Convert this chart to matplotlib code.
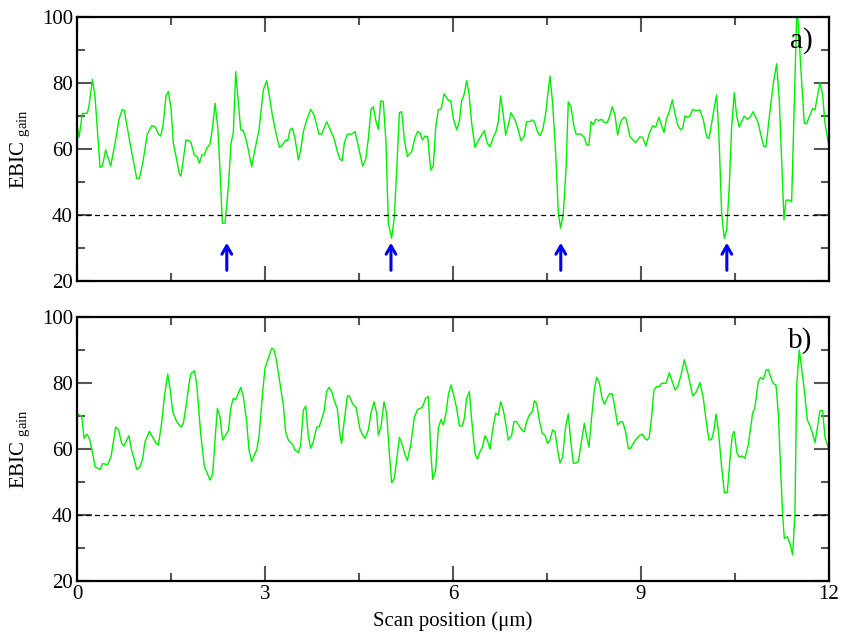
import numpy as np
import matplotlib
matplotlib.use('Agg')
import matplotlib.pyplot as plt

# panel a) scan data
xa = [0.005, 0.032, 0.085, 0.165, 0.197, 0.245, 0.287, 0.367, 0.404, 0.457, 0.537, 0.606, 0.670, 0.723, 0.755,
      0.846, 0.952, 0.995, 1.048, 1.122, 1.191, 1.245, 1.298, 1.335, 1.377, 1.420, 1.457, 1.500, 1.537, 1.580,
      1.633, 1.659, 1.739, 1.792, 1.819, 1.872, 1.920, 1.952, 1.994, 2.031, 2.069, 2.122, 2.165, 2.202, 2.245,
      2.282, 2.319, 2.361, 2.415, 2.457, 2.494, 2.532, 2.612, 2.654, 2.707, 2.787, 2.840, 2.904,
      2.973, 3.026, 3.063, 3.116, 3.170, 3.228, 3.266, 3.330, 3.362, 3.399, 3.436, 3.479, 3.532, 3.569, 3.612,
      3.665, 3.729, 3.782, 3.862, 3.904, 3.984, 4.037, 4.101, 4.154, 4.196, 4.234, 4.266, 4.314, 4.383, 4.436,
      4.500, 4.558, 4.606, 4.649, 4.691, 4.728, 4.771, 4.808, 4.846, 4.888, 4.931, 4.968, 5.021, 5.064, 5.101,
      5.144, 5.181, 5.224, 5.272, 5.341, 5.394, 5.436, 5.474, 5.511, 5.553, 5.596, 5.644, 5.686, 5.723, 5.766,
      5.809, 5.857, 5.926, 5.963, 6.005, 6.059,
      6.101, 6.138, 6.176, 6.218, 6.255, 6.298, 6.351, 6.394, 6.441, 6.500, 6.547, 6.590, 6.643, 6.686, 6.723,
      6.760, 6.803, 6.840, 6.883, 6.925, 6.989, 7.042, 7.085, 7.133, 7.175, 7.228, 7.266, 7.298, 7.346, 7.388,
      7.431, 7.479, 7.521, 7.548, 7.590, 7.638, 7.681, 7.718, 7.760, 7.803, 7.840, 7.883, 7.931, 7.963, 8.042,
      8.096, 8.133, 8.170, 8.202, 8.239, 8.277, 8.330, 8.372, 8.415, 8.463, 8.505, 8.542, 8.585, 8.627, 8.675,
      8.728, 8.760, 8.824, 8.914,
      8.984, 9.026, 9.079, 9.133, 9.186, 9.234, 9.286, 9.329, 9.367, 9.409, 9.452, 9.500, 9.542, 9.585, 9.633,
      9.665, 9.702, 9.745, 9.782, 9.824, 9.877, 9.941, 9.995, 10.048, 10.085, 10.128, 10.170, 10.207, 10.245,
      10.287, 10.330, 10.367, 10.409, 10.447, 10.489, 10.527, 10.569, 10.606, 10.649, 10.697, 10.739, 10.792,
      10.872, 10.925, 10.963, 10.995, 11.048, 11.112, 11.165, 11.207, 11.245, 11.282, 11.314, 11.367, 11.404,
      11.441, 11.490, 11.564, 11.606, 11.644, 11.697, 11.740, 11.777, 11.814, 11.857, 11.899, 11.936, 12.0]
ya = [66.8, 63.5, 70.8, 70.8, 73.8, 81.1, 75.9, 54.4, 54.8, 59.7, 54.8, 61.7, 69.0, 72.0, 71.6,
      61.7, 51.1, 51.1, 55.7, 64.5, 67.0, 66.8, 64.5, 63.9, 67.8, 76.1, 77.4, 72.3, 61.7, 57.7,
      52.4, 51.8, 62.7, 62.5, 61.9, 58.2, 57.5, 55.7, 58.2, 58.2, 60.2, 61.5, 66.8, 73.8, 66.8,
      53.6, 37.5, 37.5, 48.6, 61.7, 64.9, 83.4, 65.8, 65.6, 62.2, 54.6, 59.9, 65.8,
      77.9, 80.7, 76.9, 70.3, 65.3, 60.5, 60.9, 62.7, 62.5, 65.8, 66.3, 63.2, 56.7, 59.7, 65.3,
      68.8, 72.0, 70.3, 64.5, 64.5, 68.3, 66.0, 63.2, 59.2, 56.9, 56.5, 61.9, 64.5, 64.5, 65.3,
      59.9, 54.8, 56.7, 63.2, 72.0, 72.8, 68.3, 66.0, 74.6, 74.3, 61.7, 37.5, 32.9, 39.5, 53.6,
      71.0, 71.3, 62.7, 57.7, 59.2, 63.5, 65.3, 64.9, 62.7, 63.9, 63.7, 53.6, 54.8, 66.3, 72.0,
      72.0, 76.7, 74.8, 74.6, 69.3, 65.8,
      68.3, 74.6, 76.4, 80.7, 76.9, 67.8, 60.5, 62.2, 63.7, 65.6, 61.7, 60.7, 63.5, 65.3, 68.3,
      76.1, 70.3, 64.2, 67.3, 71.0, 68.8, 65.8, 62.5, 63.7, 68.3, 68.3, 68.8, 68.3, 65.3, 64.0,
      65.8, 70.8, 77.9, 82.1, 73.8, 58.7, 40.5, 36.0, 40.5, 53.6, 74.3, 72.8, 66.8, 64.5, 64.5,
      63.5, 61.2, 61.2, 68.3, 67.3, 69.0, 68.6, 69.0, 68.0, 68.0, 70.3, 72.8, 70.3, 64.2, 68.3,
      69.6, 69.3, 63.7, 61.9,
      63.7, 63.5, 60.9, 64.8, 67.0, 66.6, 69.6, 67.0, 65.0, 69.3, 71.3, 74.9, 70.8, 67.3, 65.8,
      66.3, 70.0, 69.6, 70.0, 72.0, 71.6, 71.8, 68.8, 63.7, 63.2, 67.8, 72.6, 76.4, 63.7,
      40.5, 32.9, 35.5, 48.6, 66.8, 77.1, 70.0, 66.6, 68.3, 70.0, 69.0, 69.6, 71.3,
      67.8, 63.2, 60.7, 60.7, 69.8, 79.9, 85.8, 74.9, 56.7, 38.5, 44.5, 44.5, 44.0,
      69.8, 104.0, 80.4, 67.8, 67.6, 70.3, 72.3, 71.8, 75.9, 80.1, 76.4, 67.8, 60.7]

# panel b) scan data
xb = [0.005, 0.074, 0.112, 0.154, 0.197, 0.250, 0.287, 0.367, 0.410, 0.489, 0.543, 0.617, 0.659, 0.713, 0.750,
      0.792, 0.829, 0.872, 0.909, 0.952, 1.005, 1.048, 1.085, 1.154, 1.218, 1.261, 1.298, 1.351, 1.394, 1.447,
      1.484, 1.527, 1.590, 1.659, 1.697, 1.739, 1.787, 1.819, 1.872, 1.909, 1.973, 2.031, 2.079, 2.122, 2.165,
      2.202, 2.240, 2.282, 2.324, 2.415, 2.457, 2.494, 2.532, 2.612, 2.654, 2.707, 2.744, 2.787, 2.830, 2.867,
      2.904,
      2.961, 2.999, 3.052, 3.106, 3.143, 3.185, 3.239, 3.292, 3.329, 3.372, 3.436, 3.479, 3.532, 3.569, 3.612,
      3.649, 3.692, 3.729, 3.771, 3.824, 3.867, 3.904, 3.941, 3.984, 4.021, 4.064, 4.117, 4.154, 4.197, 4.223,
      4.266, 4.314, 4.346, 4.399, 4.452, 4.516, 4.558, 4.596, 4.649, 4.691, 4.739, 4.782, 4.808, 4.851, 4.899,
      4.941, 4.984, 5.021, 5.064, 5.101, 5.144, 5.192, 5.234, 5.271, 5.325, 5.383, 5.436, 5.511, 5.564, 5.607,
      5.644, 5.676, 5.723, 5.766, 5.809, 5.846, 5.888, 5.926, 5.968, 6.016, 6.059,
      6.101, 6.149, 6.181, 6.218, 6.261, 6.298, 6.351, 6.388, 6.431, 6.468, 6.510, 6.548, 6.590, 6.633, 6.681,
      6.723, 6.760, 6.803, 6.845, 6.883, 6.936, 6.973, 7.015, 7.068, 7.106, 7.138, 7.175, 7.218, 7.266, 7.298,
      7.335, 7.377, 7.425, 7.468, 7.510, 7.548, 7.590, 7.628, 7.670, 7.707, 7.750, 7.798, 7.840, 7.877, 7.920,
      7.963, 8.000, 8.053, 8.096, 8.133, 8.170, 8.213, 8.255, 8.292, 8.335, 8.383, 8.415, 8.452, 8.494, 8.542,
      8.585, 8.627, 8.675, 8.707, 8.755, 8.797, 8.834, 8.877, 8.920,
      8.984, 9.026, 9.063, 9.100, 9.132, 9.170, 9.207, 9.250, 9.292, 9.330, 9.399, 9.452, 9.500, 9.543, 9.585,
      9.633, 9.692, 9.755, 9.824, 9.877, 9.941, 9.995, 10.037, 10.085, 10.128, 10.165, 10.197, 10.234, 10.287,
      10.330, 10.377, 10.420, 10.457, 10.489, 10.527, 10.569, 10.606, 10.659, 10.712, 10.781, 10.818, 10.872,
      10.909, 10.952, 10.995, 11.032, 11.085, 11.122, 11.154, 11.192, 11.229, 11.261, 11.287, 11.335, 11.377,
      11.420, 11.457, 11.484, 11.526, 11.564, 11.606, 11.654, 11.697, 11.739, 11.777, 11.814, 11.856, 11.898,
      11.936, 12.0]
yb = [70.6, 70.0, 63.2, 64.5, 63.2, 58.7, 54.6, 53.8, 55.6, 55.2, 57.7, 66.6, 66.0, 61.7, 60.9,
      62.7, 64.0, 59.5, 57.2, 53.8, 54.6, 57.2, 62.2, 65.3, 63.2, 61.7, 61.2, 68.0, 75.9, 82.7,
      78.4, 71.3, 68.3, 66.6, 67.8, 72.8, 79.7, 82.9, 83.7, 79.9, 64.7, 54.8, 52.6, 50.6, 52.4,
      62.7, 72.3, 69.6, 62.7, 65.6, 72.8, 75.4, 74.9, 78.7, 75.9, 68.3, 59.7, 56.2, 58.2, 59.7,
      63.7,
      76.9, 84.4, 87.5, 90.5, 90.2, 86.5, 79.9, 73.3, 65.2, 62.7, 61.5, 59.7, 58.9, 61.2, 71.8,
      73.0, 63.7, 60.2, 62.2, 66.6, 66.8, 69.0, 71.3, 77.4, 78.7, 77.4, 74.0, 72.3, 64.0, 61.7,
      68.8, 76.1, 76.1, 73.6, 72.6, 66.0, 64.2, 63.2, 65.8, 70.8, 74.3, 70.8, 64.2, 66.8, 74.3,
      70.8, 58.7, 49.8, 51.1, 56.7, 63.5, 61.2, 58.2, 56.5, 61.2, 69.6, 72.0, 72.6, 75.4, 75.9,
      59.7, 50.8, 53.6, 66.3, 69.0, 67.3, 70.8, 76.4, 79.4, 75.9, 72.3,
      67.0, 67.0, 69.3, 75.4, 77.4, 68.8, 58.7, 56.9, 59.2, 60.5, 64.0, 62.7, 59.9, 65.8, 70.8,
      70.3, 74.3, 71.8, 67.3, 62.7, 64.2, 68.3, 68.3, 66.6, 65.6, 65.2, 68.3, 70.3, 71.3, 74.6,
      73.8, 68.8, 64.7, 64.2, 61.7, 62.7, 65.8, 65.2, 59.7, 55.7, 57.7, 66.8, 70.6, 62.7, 55.7,
      55.7, 56.2, 62.7, 67.8, 63.7, 60.5, 69.8, 77.9, 81.7, 80.1, 75.1, 73.6, 75.1, 76.7, 76.7,
      72.3, 67.3, 68.3, 68.3, 65.2, 60.2, 60.2, 61.7, 62.9,
      64.2, 64.5, 63.2, 62.7, 63.5, 69.8, 77.9, 78.9, 78.9, 79.9, 79.9, 83.1, 80.4, 77.9, 78.9,
      81.9, 87.0, 82.4, 76.1, 77.1, 80.1, 75.4, 68.8, 62.7, 62.9, 65.8, 70.6, 65.8, 54.6,
      46.8, 46.8, 56.7, 64.2, 65.3, 59.2, 57.5, 57.9, 57.2, 61.2, 70.8, 72.6, 80.4,
      81.7, 81.1, 83.9, 84.1, 80.9, 79.7, 79.4, 70.8, 53.6, 40.0, 32.9, 33.4, 31.4,
      27.9, 40.5, 78.9, 90.0, 84.4, 77.9, 68.8, 67.0, 64.7, 61.9, 66.3, 71.6, 71.6,
      63.7, 59.7]

threshold = 40  # dashed reference level
arrow_x = [2.39, 5.01, 7.72, 10.37]  # dips marked in panel a
arrow_tail, arrow_head = 22.4, 32.4

plt.rcParams['font.family'] = ['Liberation Serif', 'DejaVu Serif']
plt.rcParams['mathtext.fontset'] = 'custom'
plt.rcParams['mathtext.rm'] = 'Liberation Serif'

fig = plt.figure(figsize=(8.41, 6.36), dpi=100)
ax1 = fig.add_axes([0.0916, 0.5582, 0.8941, 0.4151])
ax2 = fig.add_axes([0.0916, 0.0865, 0.8941, 0.4151])

for ax, x, y, tag in [(ax1, xa, ya, 'a)'), (ax2, xb, yb, 'b)')]:
    ax.plot(x, y, color='#00ee00', lw=1.0)
    ax.axhline(threshold, color='black', ls=(0, (4, 3)), lw=0.9)
    ax.set_xlim(0, 12)
    ax.set_ylim(20, 100)
    ax.set_xticks([0, 3, 6, 9, 12])
    ax.set_xticks(np.arange(0, 12.1, 1.5), minor=True)
    ax.set_yticks([20, 40, 60, 80, 100])
    ax.set_yticks(np.arange(20, 101, 10), minor=True)
    ax.tick_params(which='both', direction='in', top=True, right=True, color='#555555', width=1.5,
                   labelsize=15)
    ax.tick_params(which='major', length=10.5, pad=3)
    ax.tick_params(which='minor', length=5.5)
    for s in ax.spines.values():
        s.set_linewidth(1.6)
    ax.set_ylabel('EBIC $_{\\mathrm{gain}}$', fontsize=15, labelpad=6)
    ax.text(0.978, 0.96, tag, transform=ax.transAxes, ha='right', va='top', fontsize=21)

ax1.tick_params(labelbottom=False)

# blue arrows under the dips
for xp in arrow_x:
    ax1.annotate('', xy=(xp, arrow_head), xytext=(xp, arrow_tail),
                 arrowprops=dict(arrowstyle='->,head_width=0.35,head_length=0.6', color='#0000ee', lw=2.2))

ax2.set_xlabel('Scan position (\u03bcm)', fontsize=15, labelpad=5)

plt.savefig('out.png', dpi=100)
